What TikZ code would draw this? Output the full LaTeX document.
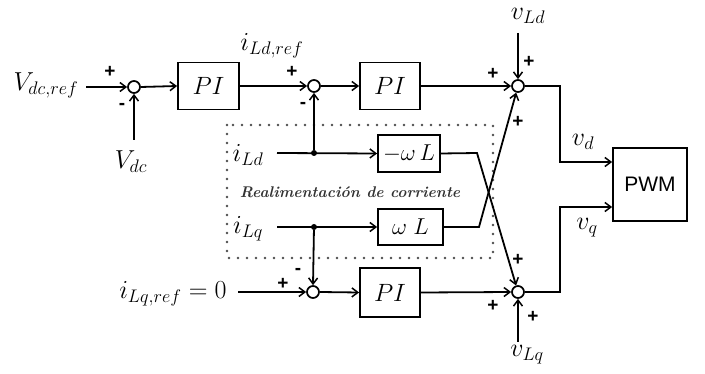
\RequirePackage{fix-cm}
\documentclass[tikz,border=0pt]{standalone}
\usepackage{fontspec}
\newfontfamily\blocksans{Liberation Sans}
\usetikzlibrary{arrows.meta}
\begin{document}
\begin{tikzpicture}[x=1pt,y=-1pt,
  wire/.style={line width=1.8pt},
  arr/.style={wire,-{Straight Barb[length=6pt,width=9pt,line width=1.5pt]}},
  blk/.style={draw,line width=1.8pt,inner sep=0pt,font=\fontsize{25}{28}\selectfont},
  sumc/.style={circle,draw,line width=1.7pt,fill=white,minimum size=12pt,inner sep=0pt},
  dot/.style={circle,fill,minimum size=6pt,inner sep=0pt},
  lbl/.style={inner sep=0pt,font=\fontsize{26}{30}\selectfont},
  sgn/.style={inner sep=0pt,font=\blocksans\bfseries\fontsize{19}{19}\selectfont},
  dotbox/.style={line width=2.6pt,line cap=round,dash pattern=on 0pt off 9pt,draw=black!70}]
\useasboundingbox (0,0) rectangle (705,374);

% current feedback region
\draw[dotbox] (227,125) rectangle (493,258);
\node[inner sep=0pt,text=black!80,font=\bfseries\itshape\fontsize{15.5}{18}\selectfont] (fbtxt) at (350,192) {Realimentación de corriente};

% summing junctions
\node[sumc] (s1) at (134,87) {};
\node[sumc] (s2) at (314,86) {};
\node[sumc] (s3) at (518,86) {};
\node[sumc] (s4) at (518,292) {};
\node[sumc] (s5) at (313,292) {};

% blocks
\node[blk,minimum width=61pt,minimum height=47pt] (pi1) at (208.5,86) {$PI$};
\node[blk,minimum width=60pt,minimum height=47pt] (pi2) at (390,86) {$PI$};
\node[blk,minimum width=60pt,minimum height=49pt] (pi3) at (390,292.5) {$PI$};
\node[blk,minimum width=62pt,minimum height=37pt,font=\fontsize{23}{26}\selectfont] (nwl) at (409,153.5) {$-\omega\,L$};
\node[blk,minimum width=65pt,minimum height=36pt,font=\fontsize{23}{26}\selectfont] (wl) at (410.5,227) {$\omega\;L$};
\node[blk,minimum width=74pt,minimum height=73pt,font=\blocksans\fontsize{21}{24}\selectfont] (pwm) at (650,184.5) {PWM};

% signal labels
\node[lbl] (vdcref) at (46,85) {$V_{dc,ref}$};
\node[lbl] (vdc) at (131,162) {$V_{dc}$};
\node[lbl] (idref) at (272,46) {$i_{Ld,ref}$};
\node[lbl] (vld) at (528,16) {$v_{Ld}$};
\node[lbl] (vd) at (583,142) {$v_{d}$};
\node[lbl] (vq) at (587,228) {$v_{q}$};
\node[lbl] (vlq) at (527,355) {$v_{Lq}$};
\node[lbl] (ild) at (248,155) {$i_{Ld}$};
\node[lbl] (ilq) at (248,229) {$i_{Lq}$};
\node[lbl] (iqref) at (173,294) {$i_{Lq,ref}=0$};

% free ends of the input wires
\coordinate (vdcin) at (86,87);
\coordinate (vdcup) at (134,140);
\coordinate (vldin) at (518,33);
\coordinate (vlqin) at (518,342);
\coordinate (ildin) at (277,153);
\coordinate (ilqin) at (277,227);
\coordinate (iqin) at (238,292);
\coordinate (dbend) at (560,86);
\coordinate (qbend) at (560,292);
\coordinate (xd) at (477,153);
\coordinate (xq) at (479,227);

% branch points
\node[dot] (jd) at (314,153) {};
\node[dot] (jq) at (314,227) {};

% d-axis chain
\draw[arr] (vdcin) -- (s1.west);
\draw[arr] (vdcup) -- (s1.south);
\draw[arr] (s1.east) -- (pi1.west);
\draw[arr] (pi1.east) -- (s2.west);
\draw[arr] (s2.east) -- (pi2.west);
\draw[arr] (pi2.east) -- (s3.west);
\draw[arr] (vldin) -- (s3.north);
\draw[arr] (s3.east) -- (dbend) |- ([yshift=22.5pt]pwm.west);

% q-axis chain
\draw[arr] (iqin) -- (s5.west);
\draw[arr] (s5.east) -- (pi3.west);
\draw[arr] (pi3.east) -- (s4.west);
\draw[arr] (vlqin) -- (s4.south);
\draw[arr] (s4.east) -- (qbend) |- ([yshift=-22.5pt]pwm.west);

% current feedback and decoupling
\draw[arr] (ildin) -- (nwl.west);
\draw[arr] (ilqin) -- (wl.west);
\draw[arr] (jd) -- (s2.south);
\draw[arr] (jq) -- (s5.north);
\draw[arr] (nwl.east) -- (xd) -- (s4);
\draw[arr] (wl.east) -- (xq) -- (s3);

% signs
\node[sgn] (p1) at (110,72) {+};
\node[sgn] (m1) at (122,106) {-};
\node[sgn] (p2) at (292,72) {+};
\node[sgn] (m2) at (303,105) {-};
\node[sgn] (p3a) at (493,74) {+};
\node[sgn] (p3b) at (529,62) {+};
\node[sgn] (p3c) at (518,122) {+};
\node[sgn] (p4a) at (518,260) {+};
\node[sgn] (p4b) at (493,306) {+};
\node[sgn] (p4c) at (533,317) {+};
\node[sgn] (p5) at (283,284) {+};
\node[sgn] (m5) at (298,271) {-};
\end{tikzpicture}
\end{document}
